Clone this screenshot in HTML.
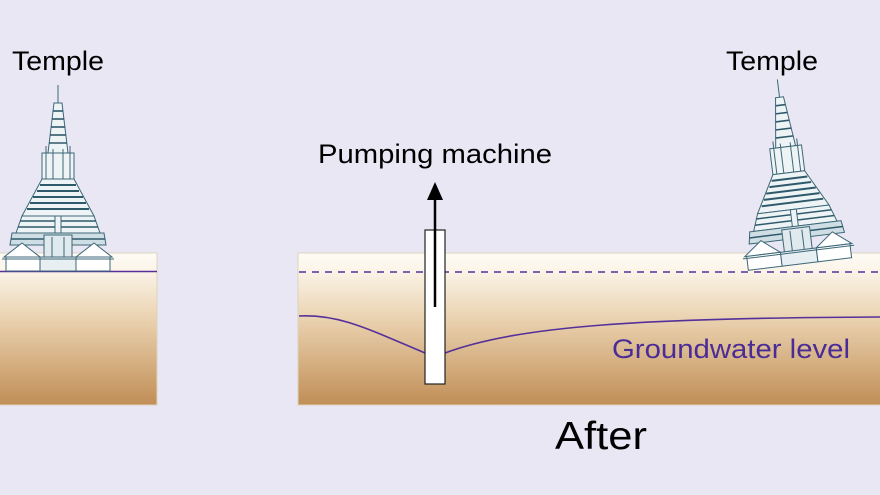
<!DOCTYPE html>
<html><head><meta charset="utf-8"><style>
html,body{margin:0;padding:0;background:#e9e7f4;}
svg{display:block}
text{font-family:"Liberation Sans",sans-serif;fill:#000}
</style></head><body>
<svg width="880" height="495" viewBox="0 0 880 495" xmlns="http://www.w3.org/2000/svg">
<defs>
<linearGradient id="g" x1="0" y1="0" x2="0" y2="1">
<stop offset="0" stop-color="#fefcf6"/>
<stop offset="0.12" stop-color="#fbf4e8"/>
<stop offset="0.45" stop-color="#e9d0ad"/>
<stop offset="1" stop-color="#c18e56"/>
</linearGradient>
<g id="temple" stroke="#3d6777" stroke-width="1" fill="#eef3f6">
<line x1="0" y1="-186" x2="0" y2="-168"/>
<polygon points="-4,-168 4,-168 10,-118 -10,-118"/>
<g stroke="#2f5a6b" stroke-width="1.6">
<line x1="-5" y1="-160" x2="5" y2="-160"/><line x1="-6" y1="-152" x2="6" y2="-152"/>
<line x1="-7" y1="-144" x2="7" y2="-144"/><line x1="-8" y1="-136" x2="8" y2="-136"/>
<line x1="-9" y1="-128" x2="9" y2="-128"/>
</g>
<rect x="-16" y="-118" width="32" height="26"/>
<line x1="-12" y1="-125" x2="-12" y2="-92"/><line x1="12" y1="-125" x2="12" y2="-92"/>
<line x1="-5" y1="-122" x2="-5" y2="-92"/><line x1="5" y1="-122" x2="5" y2="-92"/>
<polygon points="-16,-92 16,-92 36,-55 -36,-55"/>
<g stroke="#2f5a6b" stroke-width="2">
<line x1="-18" y1="-86" x2="18" y2="-86"/><line x1="-21" y1="-80" x2="21" y2="-80"/>
<line x1="-25" y1="-74" x2="25" y2="-74"/><line x1="-28" y1="-68" x2="28" y2="-68"/>
<line x1="-31" y1="-62" x2="31" y2="-62"/>
</g>
<polygon points="-36,-55 36,-55 42,-38 -42,-38"/>
<g stroke="#2f5a6b" stroke-width="1.5"><line x1="-38" y1="-50" x2="38" y2="-50"/><line x1="-40" y1="-44" x2="40" y2="-44"/></g>
<rect x="-3" y="-55" width="6" height="20"/>
<polygon points="-46,-38 46,-38 48,-26 -48,-26" fill="#cfdde4"/>
<g stroke="#2f5a6b" stroke-width="1.5"><line x1="-47" y1="-32" x2="47" y2="-32"/></g>
<rect x="-14" y="-36" width="28" height="24" fill="#dfe9ee"/>
<line x1="-6" y1="-34" x2="-6" y2="-12"/><line x1="6" y1="-34" x2="6" y2="-12"/>
<polygon points="-54,-14 -36,-28 -18,-14" fill="#fff"/>
<polygon points="18,-14 36,-28 54,-14" fill="#fff"/>
<rect x="-52" y="-14" width="34" height="14" fill="#fff"/>
<rect x="18" y="-14" width="34" height="14" fill="#fff"/>
<rect x="-18" y="-14" width="36" height="14" fill="#e8eff3"/>
<line x1="-56" y1="-12" x2="56" y2="-12"/>
</g>
</defs>
<rect x="0" y="0" width="880" height="495" fill="#e9e7f4"/>
<rect x="-1" y="253" width="158" height="152" fill="url(#g)" stroke="#ddd3bf" stroke-width="1"/>
<line x1="0" y1="271.5" x2="157" y2="271.5" stroke="#55309a" stroke-width="1.6"/>
<use href="#temple" transform="translate(58,271)"/>
<text x="12" y="70" font-size="27" textLength="92" lengthAdjust="spacingAndGlyphs">Temple</text>
<rect x="298" y="253" width="583" height="152" fill="url(#g)" stroke="#ddd3bf" stroke-width="1"/>
<line x1="299" y1="272" x2="880" y2="272" stroke="#55309a" stroke-width="1.6" stroke-dasharray="7,6"/>
<path d="M299,316 C340,314 370,330 425,353" fill="none" stroke="#55309a" stroke-width="1.6"/>
<path d="M445,353 C520,325 650,318 880,317" fill="none" stroke="#55309a" stroke-width="1.6"/>
<rect x="425" y="230" width="20" height="154" fill="#fff" stroke="#222" stroke-width="1.2"/>
<line x1="435" y1="307" x2="435" y2="195" stroke="#000" stroke-width="2.5"/>
<polygon points="435,182 427,200 443,200" fill="#000"/>
<text x="318" y="163" font-size="27" textLength="234" lengthAdjust="spacingAndGlyphs">Pumping machine</text>
<text x="612" y="358" font-size="27" textLength="238" lengthAdjust="spacingAndGlyphs" style="fill:#4a2c96">Groundwater level</text>
<use href="#temple" transform="translate(800,264) rotate(-7)"/>
<text x="726" y="70" font-size="27" textLength="92" lengthAdjust="spacingAndGlyphs">Temple</text>
<text x="555" y="449" font-size="39" textLength="92" lengthAdjust="spacingAndGlyphs">After</text>
</svg>
</body></html>
